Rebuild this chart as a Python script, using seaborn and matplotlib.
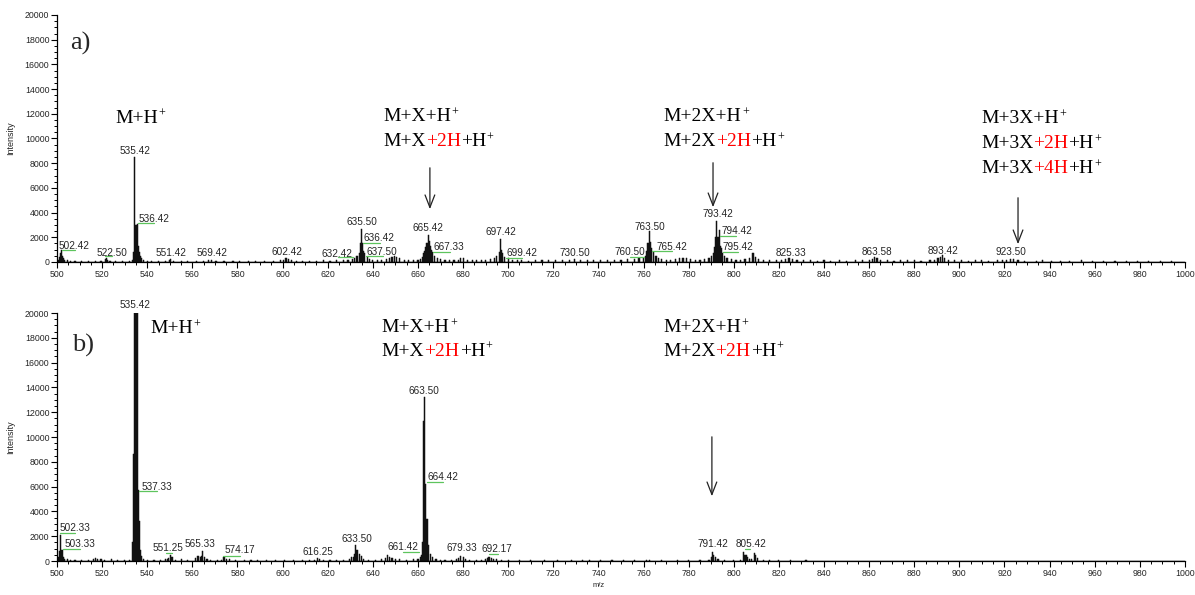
import matplotlib
matplotlib.use("Agg")
import matplotlib.pyplot as plt
from matplotlib.ticker import MultipleLocator
import seaborn as sns

# ---------------------------------------------------------------------------
# Data (m/z of each stick, intensity) - panel a
# ---------------------------------------------------------------------------
mz_a = [
    500.5, 501.0, 501.5, 502.0, 502.5, 503.0, 503.5, 504.5, 506.0, 508.0,
    511.0, 514.0, 517.0, 519.5, 521.5, 522.0, 522.5, 523.5, 526.0, 529.0,
    532.0, 533.5, 534.0, 534.5, 535.0, 535.5, 536.0, 536.5, 537.0, 537.5,
    538.5, 540.0, 542.0, 545.0, 548.0, 550.0, 550.5, 551.5, 555.0, 558.0,
    562.0, 565.0, 567.0, 568.5, 570.5, 574.0, 578.0, 581.0, 585.0, 588.0,
    592.0, 596.0, 599.0, 600.5, 601.5, 602.5, 604.0, 606.0, 609.0, 612.0,
    615.0, 618.0, 621.0, 624.0, 627.0, 629.0, 631.0, 632.0, 633.0, 634.0,
    634.5, 635.0, 635.5, 636.0, 636.5, 637.5, 638.5, 640.0, 642.0, 644.0,
    646.0, 647.5, 648.5, 649.5, 650.5, 652.0, 654.0, 656.0, 658.0, 660.0,
    661.0, 662.0, 662.5, 663.0, 663.5, 664.0, 664.5, 665.0, 665.5, 666.0,
    666.5, 667.5, 668.5, 670.0, 672.0, 674.0, 676.0, 678.0, 679.0, 680.0,
    682.0, 684.0, 686.0, 688.0, 690.0, 692.0, 694.0, 695.0, 696.0, 696.5,
    697.0, 697.5, 698.5, 700.0, 702.0, 704.0, 706.0, 709.0, 712.0, 715.0,
    718.0, 721.0, 724.0, 727.0, 729.5, 732.0, 735.0, 738.0, 741.0, 744.0,
    747.0, 750.0, 753.0, 756.0, 758.0, 760.0, 761.0, 761.5, 762.0, 762.5,
    763.0, 763.5, 764.5, 765.5, 766.5, 768.0, 770.0, 772.0, 774.0, 776.0,
    777.5, 779.0, 781.0, 783.0, 785.0, 787.0, 789.0, 790.0, 791.0, 791.5,
    792.0, 792.5, 793.0, 793.5, 794.0, 794.5, 795.0, 796.0, 797.0, 799.0,
    801.0, 803.0, 805.0, 807.0, 808.5, 809.5, 811.0, 813.0, 816.0, 819.0,
    821.0, 823.0, 824.5, 826.0, 828.0, 831.0, 834.0, 837.0, 840.0, 843.0,
    847.0, 850.0, 854.0, 857.0, 860.0, 861.5, 862.5, 863.5, 865.0, 868.0,
    871.0, 874.0, 877.0, 880.0, 883.0, 887.0, 889.0, 890.5, 891.5, 892.5,
    893.5, 895.0, 898.0, 901.0, 904.0, 907.0, 910.0, 913.0, 917.0, 919.0,
    921.0, 922.5, 924.0, 926.0, 929.0, 934.0, 937.0, 941.0, 945.0, 949.0,
    954.0, 959.0, 964.0, 969.0, 974.0, 979.0, 984.0, 989.0, 994.0,
]
int_a = [
    200, 400, 700, 1000, 500, 300, 200, 120, 100, 80,
    60, 80, 60, 80, 250, 350, 200, 100, 60, 80,
    80, 150, 800, 8500, 3000, 3100, 1300, 800, 500, 300,
    150, 100, 80, 60, 80, 120, 250, 100, 60, 80,
    60, 100, 120, 180, 80, 60, 70, 60, 80, 60,
    70, 90, 120, 200, 350, 250, 150, 100, 80, 100,
    80, 120, 100, 150, 120, 200, 250, 300, 450, 700,
    1500, 2700, 1500, 900, 700, 400, 250, 150, 150, 200,
    250, 350, 400, 450, 400, 300, 200, 150, 150, 200,
    250, 400, 700, 900, 1200, 1500, 2200, 1700, 1300, 1000,
    800, 500, 300, 250, 200, 150, 150, 200, 350, 300,
    200, 150, 120, 150, 200, 250, 350, 500, 800, 1850,
    1000, 700, 400, 300, 200, 150, 120, 100, 150, 120,
    150, 130, 150, 180, 250, 200, 150, 120, 130, 150,
    180, 200, 220, 250, 300, 350, 500, 900, 1500, 2500,
    1600, 1100, 800, 500, 350, 250, 200, 200, 250, 300,
    350, 300, 250, 200, 200, 250, 350, 500, 700, 1200,
    2000, 3300, 2000, 2600, 1300, 1100, 700, 500, 300, 250,
    200, 200, 250, 300, 750, 400, 250, 150, 120, 150,
    200, 250, 300, 250, 200, 150, 120, 100, 120, 100,
    120, 100, 120, 150, 200, 250, 400, 300, 200, 120,
    100, 120, 150, 120, 100, 150, 200, 300, 400, 550,
    350, 200, 150, 120, 100, 150, 150, 100, 120, 150,
    200, 280, 250, 150, 100, 80, 120, 100, 80, 100,
    120, 80, 60, 80, 60, 80, 60, 80, 60,
]

# panel b
mz_b = [
    500.5, 501.0, 501.5, 502.0, 502.5, 503.0, 503.5, 504.5, 506.0, 508.0,
    511.0, 514.0, 516.0, 517.0, 518.0, 519.5, 521.0, 524.0, 527.0, 530.0,
    532.0, 533.5, 534.0, 534.5, 535.0, 535.5, 536.0, 536.5, 537.0, 537.5,
    538.5, 540.0, 543.0, 546.0, 548.0, 549.0, 549.5, 550.5, 551.0, 552.5,
    555.0, 558.0, 561.5, 562.5, 563.5, 564.0, 564.5, 565.5, 566.5, 568.0,
    571.0, 573.0, 574.0, 575.0, 576.5, 579.0, 583.0, 586.0, 589.0, 593.0,
    597.0, 601.0, 605.0, 609.0, 612.0, 614.0, 615.5, 616.5, 618.0, 621.0,
    624.0, 627.0, 629.5, 630.5, 631.5, 632.0, 632.5, 633.0, 634.0, 635.0,
    636.0, 638.0, 641.0, 644.0, 645.5, 646.5, 647.5, 648.5, 650.0, 652.0,
    655.0, 658.0, 660.0, 661.0, 661.5, 662.0, 662.5, 663.0, 663.5, 664.0,
    664.5, 665.5, 666.5, 668.0, 670.0, 672.0, 675.0, 677.0, 678.0, 679.0,
    680.0, 681.0, 683.0, 686.0, 688.0, 690.0, 691.0, 691.5, 692.5, 693.5,
    695.0, 697.0, 700.0, 705.0, 710.0, 716.0, 722.0, 728.0, 733.0, 736.0,
    741.0, 746.0, 751.0, 756.0, 761.5, 762.5, 768.0, 775.0, 780.0, 785.0,
    789.0, 790.0, 790.5, 791.0, 792.0, 793.0, 796.0, 800.0, 803.0, 804.5,
    805.0, 805.5, 806.0, 807.0, 808.0, 809.0, 809.5, 810.5, 813.0, 816.0,
    820.0, 825.0, 832.0, 840.0, 850.0, 860.0, 870.0, 880.0, 890.0, 900.0,
    910.0, 920.0, 930.0, 940.0, 950.0, 960.0, 970.0, 980.0, 990.0,
]
int_b = [
    300, 800, 2100, 900, 900, 300, 200, 150, 100, 80,
    60, 80, 150, 250, 200, 150, 80, 150, 60, 60,
    80, 1500, 8600, 21000, 21000, 21000, 5700, 3200, 900, 400,
    200, 100, 80, 60, 150, 200, 250, 500, 300, 100,
    150, 80, 250, 400, 350, 400, 800, 300, 150, 100,
    80, 100, 300, 200, 150, 100, 80, 100, 120, 100,
    80, 60, 80, 60, 80, 120, 250, 200, 100, 80,
    100, 80, 200, 350, 300, 600, 1300, 900, 600, 400,
    200, 100, 80, 150, 250, 500, 350, 250, 200, 150,
    100, 150, 200, 300, 450, 1500, 11300, 13200, 6200, 3400,
    1300, 600, 300, 150, 100, 80, 100, 150, 250, 400,
    300, 200, 100, 80, 100, 200, 250, 350, 250, 200,
    150, 100, 60, 50, 60, 50, 60, 50, 80, 50,
    60, 50, 60, 50, 100, 100, 60, 80, 60, 50,
    100, 300, 700, 500, 300, 200, 80, 60, 60, 700,
    500, 450, 350, 200, 150, 650, 450, 250, 100, 60,
    80, 60, 50, 40, 40, 40, 40, 40, 40, 40,
    40, 40, 40, 40, 40, 40, 40, 40, 40,
]
assert len(mz_a) == len(int_a) and len(mz_b) == len(int_b)

# peak labels: text, x, y (centre of text)
lab_a_text = ["502.42", "522.50", "535.42", "536.42", "551.42", "569.42", "602.42",
              "632.42", "635.50", "636.42", "637.50", "665.42", "667.33", "697.42",
              "699.42", "730.50", "760.50", "763.50", "765.42", "793.42", "794.42",
              "795.42", "825.33", "863.58", "893.42", "923.50"]
lab_a_x = [507.5, 524.4, 534.6, 543.0, 550.5, 568.7, 602.0,
           624.0, 635.2, 642.7, 644.0, 664.5, 673.8, 696.8,
           706.1, 729.6, 754.0, 762.9, 772.6, 793.0, 801.4,
           801.9, 825.5, 863.5, 892.7, 922.9]
lab_a_y = [1300, 730, 8990, 3480, 730, 730, 810,
           650, 3240, 1950, 810, 2750, 1210, 2430,
           730, 730, 810, 2830, 1210, 3890, 2510,
           1210, 730, 810, 890, 810]
# green leader lines: x0, x1, y
lead_a_x0 = [502.2, 521.3, 535.9, 624.6, 635.6, 637.0, 666.7, 699.0, 754.0, 763.7, 793.9, 795.2]
lead_a_x1 = [508.0, 524.4, 543.0, 631.2, 643.2, 644.5, 674.2, 706.1, 760.2, 772.6, 801.0, 801.9]
lead_a_y = [970, 450, 3160, 400, 1540, 490, 810, 320, 400, 890, 2100, 810]

lab_b_text = ["502.33", "503.33", "535.42", "537.33", "551.25", "565.33", "574.17",
              "616.25", "633.50", "661.42", "663.50", "664.42", "679.33", "692.17",
              "791.42", "805.42"]
lab_b_x = [508.0, 510.2, 534.6, 544.3, 549.2, 563.4, 581.1,
           615.7, 633.0, 653.4, 662.7, 671.1, 679.5, 695.0,
           790.8, 807.6]
lab_b_y = [2660, 1370, 20630, 5960, 1050, 1370, 890,
           730, 1770, 1130, 13700, 6770, 1050, 970,
           1370, 1370]
lead_b_x0 = [501.3, 502.7, 536.3, 548.3, 573.6, 653.4, 664.0, 691.5, 805.0]
lead_b_x1 = [508.0, 510.2, 544.3, 551.0, 581.1, 660.5, 671.1, 695.5, 807.0]
lead_b_y = [2260, 970, 5640, 640, 400, 730, 6370, 560, 970]

# species annotations: (text, colour) pieces per line, a superscript "+" is appended
f_mh = [("M+H", "black")]
f_mx1 = [("M+X+H", "black")]
f_mx2 = [("M+X", "black"), ("+2H", "red"), ("+H", "black")]
f_m2x1 = [("M+2X+H", "black")]
f_m2x2 = [("M+2X", "black"), ("+2H", "red"), ("+H", "black")]
f_m3x1 = [("M+3X+H", "black")]
f_m3x2 = [("M+3X", "black"), ("+2H", "red"), ("+H", "black")]
f_m3x3 = [("M+3X", "black"), ("+4H", "red"), ("+H", "black")]

SERIF = ["Liberation Serif", "DejaVu Serif"]


def draw_formula(ax, x, y, parts, size=14):
    t = ax.text(x, y, parts[0][0], color=parts[0][1], fontsize=size,
                family=SERIF, va="baseline", ha="left")
    for s, c in parts[1:]:
        t = ax.annotate(s, xy=(1, 0), xycoords=t, va="bottom", ha="left",
                        color=c, fontsize=size, family=SERIF)
    # superscript charge
    ax.annotate("+", xy=(1, 1), xycoords=t, xytext=(0.3, 1.2),
                textcoords="offset points", va="top", ha="left",
                fontsize=size * 0.62, family=SERIF, color="black")


def draw_arrow(ax, x, y_top, y_tip):
    ax.annotate("", xy=(x, y_tip), xytext=(x, y_top),
                arrowprops=dict(arrowstyle="->,head_length=0.9,head_width=0.35",
                                lw=0.9, color="#222222"))


def draw_panel(ax, mz, inten, lab_text, lab_x, lab_y, lx0, lx1, ly):
    sns.histplot(x=mz, weights=inten, binwidth=0.5, binrange=(499.75, 1000.25),
                 color="#111111", edgecolor="#111111", linewidth=0.35, alpha=1, ax=ax)
    for x0, x1, y in zip(lx0, lx1, ly):
        ax.plot([x0, x1], [y, y], color="#5dc45d", lw=0.9)
    for s, x, y in zip(lab_text, lab_x, lab_y):
        ax.text(x, y, s, fontsize=7.2, ha="center", va="center", clip_on=False)
    ax.set_xlim(500, 1000)
    ax.set_ylim(0, 20000)
    ax.xaxis.set_major_locator(MultipleLocator(20))
    ax.xaxis.set_minor_locator(MultipleLocator(5))
    ax.yaxis.set_major_locator(MultipleLocator(2000))
    ax.yaxis.set_minor_locator(MultipleLocator(500))
    ax.tick_params(which="major", direction="out", length=4, width=0.8,
                   labelsize=6.3, pad=1.5, color="black")
    ax.tick_params(which="minor", direction="out", length=2.2, width=0.7, color="black")
    ax.set_ylabel("Intensity", fontsize=6.5)
    ax.yaxis.set_label_coords(-0.037, 0.5)
    ax.set_xlabel("")
    for sp in ("left", "bottom"):
        ax.spines[sp].set_linewidth(0.9)
        ax.spines[sp].set_color("black")
    sns.despine(ax=ax)


sns.set_style("ticks")
plt.rcParams["font.family"] = ["Liberation Sans", "DejaVu Sans"]

fig = plt.figure(figsize=(11.95, 5.95), dpi=100)
ax_a = fig.add_axes([0.0477, 0.5597, 0.9439, 0.4151])
ax_b = fig.add_axes([0.0477, 0.0571, 0.9439, 0.4168])

# ---- panel a ----
draw_panel(ax_a, mz_a, int_a, lab_a_text, lab_a_x, lab_a_y, lead_a_x0, lead_a_x1, lead_a_y)
ax_a.text(505.8, 17170, "a)", fontsize=19, family=SERIF, va="baseline")
draw_formula(ax_a, 525.7, 11280, f_mh)
draw_formula(ax_a, 644.5, 11420, f_mx1)
draw_formula(ax_a, 644.5, 9400, f_mx2)
draw_formula(ax_a, 769.0, 11420, f_m2x1)
draw_formula(ax_a, 769.0, 9400, f_m2x2)
draw_formula(ax_a, 909.6, 11260, f_m3x1)
draw_formula(ax_a, 909.6, 9230, f_m3x2)
draw_formula(ax_a, 909.6, 7210, f_m3x3)
draw_arrow(ax_a, 665.3, 7850, 4050)
draw_arrow(ax_a, 790.8, 8260, 4210)
draw_arrow(ax_a, 926.0, 5425, 1215)

# ---- panel b ----
draw_panel(ax_b, mz_b, int_b, lab_b_text, lab_b_x, lab_b_y, lead_b_x0, lead_b_x1, lead_b_y)
ax_b.text(506.5, 16870, "b)", fontsize=19, family=SERIF, va="baseline")
draw_formula(ax_b, 541.2, 18400, f_mh)
draw_formula(ax_b, 644.0, 18430, f_mx1)
draw_formula(ax_b, 644.0, 16550, f_mx2)
draw_formula(ax_b, 768.6, 18430, f_m2x1)
draw_formula(ax_b, 768.6, 16550, f_m2x2)
draw_arrow(ax_b, 790.3, 10240, 5000)
ax_b.set_xlabel("m/z", fontsize=5.5)
ax_b.xaxis.set_label_coords(0.48, -0.085)

fig.savefig("out.png", dpi=100)
